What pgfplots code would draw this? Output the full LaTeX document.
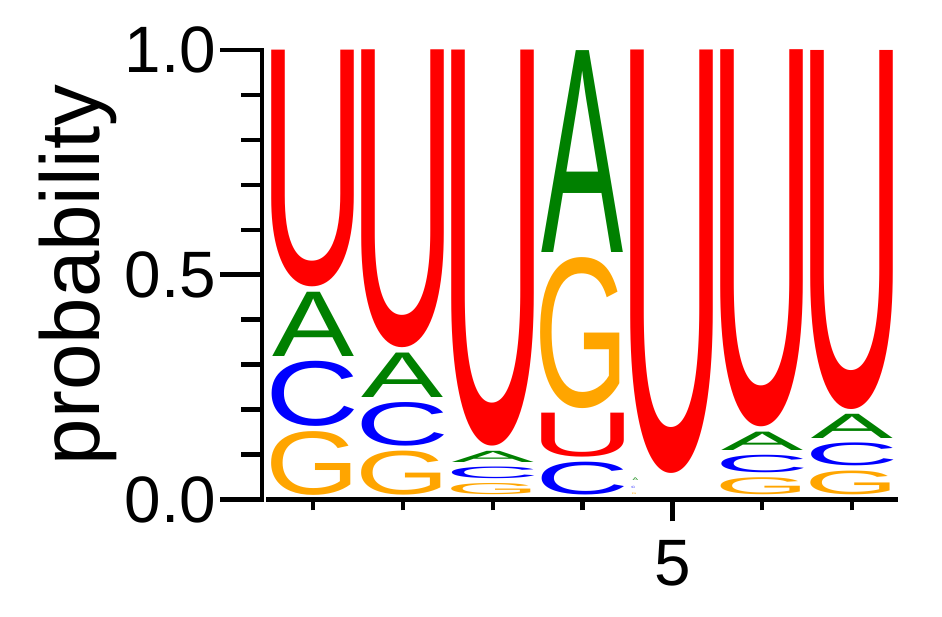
\documentclass[border=0pt]{standalone}
\usepackage{pgfplots}
\pgfplotsset{compat=1.18}
\usepackage{pgfplotstable}
\usepackage{graphicx}
\usepackage{fontspec}
\setmainfont{Liberation Sans}
\definecolor{lU}{RGB}{255,0,0}
\definecolor{lA}{RGB}{0,128,0}
\definecolor{lC}{RGB}{0,0,255}
\definecolor{lG}{RGB}{255,165,0}
\newlength\lh
\newlength\lw
% letter with its side bearings removed (Arial/Liberation Sans metrics, em)
\newcommand\tightU{\hbox{\kern-0.079em U\kern-0.079em}}
\newcommand\tightA{\hbox{A}}
\newcommand\tightC{\hbox{\kern-0.049em C\kern-0.042em}}
\newcommand\tightG{\hbox{\kern-0.055em G\kern-0.047em}}
\newcommand\Lt[3]{\pgfmathsetlength\lh{#2*449.5-5}\pgfmathsetlength\lw{#3}\resizebox*{\lw}{\lh}{#1}}

\pgfplotstableread{
x b h w
1 0.463 0.537 82
2 0.327 0.673 82
3 0.109 0.891 82
4 0.084 0.109 82
5 0.048 0.952 82
6 0.151 0.849 82
7 0.191 0.809 82
}\dataU
\pgfplotstableread{
x b h w
1 0.309 0.154 82
2 0.217 0.110 82
3 0.073 0.036 82
4 0.540 0.460 82
4.589 0.031 0.017 5.5
6 0.099 0.052 82
7 0.126 0.065 82
}\dataA
\pgfplotstableread{
x b h w
1 0.153 0.156 82
2 0.109 0.108 82
3 0.036 0.037 82
4 0 0.084 82
4.567 0.015 0.016 3.5
6 0.049 0.050 82
7 0.064 0.062 82
}\dataC
\pgfplotstableread{
x b h w
1 0 0.153 82
2 0 0.109 82
3 0 0.036 82
4 0.193 0.347 82
4.575 0 0.015 4
6 0 0.049 82
7 0 0.064 82
}\dataG

\pgfplotsset{
 base/.style={
  anchor=south west, at={(0pt,0pt)},
  x=89.8pt, y=449.5pt,
  xmin=0.43, xmax=7.51, ymin=0, ymax=1,
  clip=false,
  tick align=outside,
  axis line style={-, line width=4.5pt, black},
  major tick style={line width=4.5pt, black},
  minor tick style={line width=4.5pt, black},
  /pgf/number format/assume math mode=true,
 },
}

\begin{document}
\begin{tikzpicture}
\useasboundingbox (-262pt,-117.5pt) rectangle (680pt,499.5pt);
\begin{axis}[base,
  axis y line*=left, axis x line=none,
  y axis line style={line cap=rect},
  xtick=\empty,
  ytick={0,0.5,1}, minor ytick={0.1,0.2,0.3,0.4,0.6,0.7,0.8,0.9},
  major tick length=42pt, minor tick length=20.5pt,
  yticklabel style={font=\fontsize{65.6}{70}\selectfont, inner sep=0pt, xshift=-4pt,
    /pgf/number format/fixed, /pgf/number format/fixed zerofill, /pgf/number format/precision=1},
  ylabel={probability},
  every axis y label/.style={at={(axis description cs:-0.2285,0.5)}, rotate=90, anchor=south, inner sep=0pt, font=\fontsize{83.5}{90}\selectfont},
  every node near coord/.append style={anchor=center, inner sep=0pt, outer sep=0pt, font=\normalfont},
]
\addplot[draw=none, mark=none,
  visualization depends on={\thisrow{h}\as\hval},
  visualization depends on={\thisrow{w}\as\wval},
  nodes near coords={\Lt{\tightU}{\hval}{\wval}},
  every node near coord/.append style={text=lU}]
  table[x=x, y expr=\thisrow{b}+\thisrow{h}/2+0.0047] {\dataU};
\addplot[draw=none, mark=none,
  visualization depends on={\thisrow{h}\as\hval},
  visualization depends on={\thisrow{w}\as\wval},
  nodes near coords={\Lt{\tightA}{\hval}{\wval}},
  every node near coord/.append style={text=lA}]
  table[x=x, y expr=\thisrow{b}+\thisrow{h}/2+0.0047] {\dataA};
\addplot[draw=none, mark=none,
  visualization depends on={\thisrow{h}\as\hval},
  visualization depends on={\thisrow{w}\as\wval},
  nodes near coords={\Lt{\tightC}{\hval}{\wval}},
  every node near coord/.append style={text=lC}]
  table[x=x, y expr=\thisrow{b}+\thisrow{h}/2+0.0047] {\dataC};
\addplot[draw=none, mark=none,
  visualization depends on={\thisrow{h}\as\hval},
  visualization depends on={\thisrow{w}\as\wval},
  nodes near coords={\Lt{\tightG}{\hval}{\wval}},
  every node near coord/.append style={text=lG}]
  table[x=x, y expr=\thisrow{b}+\thisrow{h}/2+0.0047] {\dataG};
\end{axis}
\begin{axis}[base,
  axis x line*=bottom, axis y line=none, ytick=\empty,
  x axis line style={shorten <=4pt},
  xtick={5}, minor xtick={1,2,3,4,6,7},
  major tick length=22pt, minor tick length=11pt,
  xticklabel style={font=\fontsize{65.6}{70}\selectfont, inner sep=0pt, yshift=-19pt},
]
\end{axis}
\end{tikzpicture}
\end{document}
